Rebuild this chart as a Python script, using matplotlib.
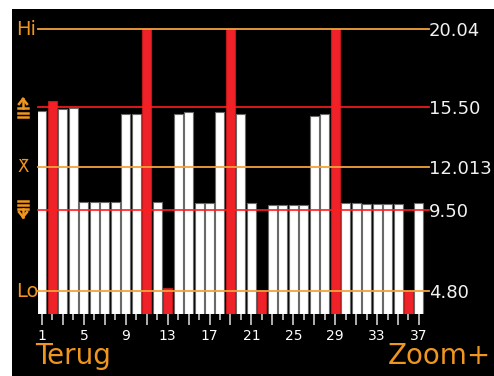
import matplotlib.pyplot as plt
import matplotlib.transforms as mtransforms
from matplotlib.lines import Line2D

# meetwaarden per monster
samples = list(range(1, 38))
values = [15.27, 15.85, 15.38, 15.44, 10.0, 10.0, 10.0, 10.0, 15.1, 15.1,
          20.04, 10.0, 4.96, 15.1, 15.2, 9.95, 9.95, 15.2, 20.04, 15.1,
          9.92, 4.80, 9.82, 9.82, 9.82, 9.82, 15.0, 15.1, 20.04, 9.92,
          9.92, 9.85, 9.85, 9.85, 9.85, 4.80, 9.92]

hi = 20.04
upper = 15.50
mean = 12.013
lower = 9.50
lo = 4.80
right_labels = ["20.04", "15.50", "12.013", "9.50", "4.80"]
tick_labels = [1, 5, 9, 13, 17, 21, 25, 29, 33, 37]

ORANGE = "#f0961e"
LINE_OR = "#f3a23a"
RED = "#ee2228"

W, H = 494, 376
fig = plt.figure(figsize=(W / 100, H / 100), dpi=100)
fig.patch.set_facecolor("white")

# zwart scherm
bg = fig.add_axes([12 / W, 0, 1 - 12 / W, 1 - 9 / H])
bg.set_facecolor("black")
bg.set_xticks([])
bg.set_yticks([])
for s in bg.spines.values():
    s.set_visible(False)

# assen: x van 38 tot 429 px, y van 29 tot 314 px
ax = fig.add_axes([38 / W, (H - 314) / H, (429 - 38) / W, (314 - 29) / H])
ax.set_facecolor("none")
ax.set_xlim(0.62, 37.96)
ax.set_ylim(3.47, hi)

colors = [RED if (v > upper or v < lower) else "white" for v in values]
edges = ["#c01818" if c == RED else "#6a6a6a" for c in colors]
ax.bar(samples, values, width=0.86, color=colors, edgecolor=edges, linewidth=0.8,
       zorder=2)

for y, c, lw in [(hi, LINE_OR, 1.3), (upper, "#ff1e1e", 1.2), (mean, LINE_OR, 1.3),
                 (lower, "#ff1e1e", 1.2), (lo, LINE_OR, 1.3)]:
    ax.axhline(y, color=c, lw=lw, zorder=3, clip_on=False)

for s in ax.spines.values():
    s.set_visible(False)

# x-as: lange streepjes bij oneven, korte bij even
ax.set_xticks(samples[::2])
ax.set_xticklabels([str(s) if s in tick_labels else "" for s in samples[::2]])
ax.set_xticks(samples[1::2], minor=True)
ax.tick_params(axis="x", which="major", length=8, width=1.4, color="#b0b0b0",
               labelcolor="white", labelsize=10, pad=3)
ax.tick_params(axis="x", which="minor", length=4, width=1.4, color="#b0b0b0")

ax.yaxis.tick_right()
ax.set_yticks([hi, upper, mean, lower, lo])
ax.set_yticklabels(right_labels)
ax.tick_params(axis="y", length=0, pad=0, labelcolor="#f2f2f2", labelsize=13)

# labels links
tr = mtransforms.blended_transform_factory(fig.transFigure, ax.transData)
ax.text(16 / W, hi, "Hi", transform=tr, color=ORANGE, fontsize=14, va="center", ha="left")
ax.text(16 / W, lo, "Lo", transform=tr, color=ORANGE, fontsize=14, va="center", ha="left")
ax.text(17 / W, mean, "X\u0304", transform=tr, color=ORANGE, fontsize=12, va="center", ha="left")

# symbolen grenswaarden (pijl met dubbele streep)
def px(x, y):
    return x / W, 1 - y / H

def seg(x0, y0, x1, y1, lw=1.8):
    (a, b), (c, d) = px(x0, y0), px(x1, y1)
    fig.add_artist(Line2D([a, c], [b, d], color=ORANGE, lw=lw, transform=fig.transFigure))

# bovengrens
seg(18, 108, 28, 108); seg(18, 113, 28, 113); seg(18, 117, 28, 117)
seg(23, 99, 23, 108); seg(19, 104, 23, 99); seg(27, 104, 23, 99)
# ondergrens
seg(18, 201, 28, 201); seg(18, 205, 28, 205); seg(18, 209, 28, 209)
seg(23, 209, 23, 217); seg(19, 212, 23, 217); seg(27, 212, 23, 217)

fig.text(35 / W, 1 - 364 / H, "Terug", color=ORANGE, fontsize=20, ha="left", va="baseline")
fig.text(491 / W, 1 - 364 / H, "Zoom+", color=ORANGE, fontsize=20, ha="right", va="baseline")

fig.savefig("out.png", dpi=100, facecolor="white")
